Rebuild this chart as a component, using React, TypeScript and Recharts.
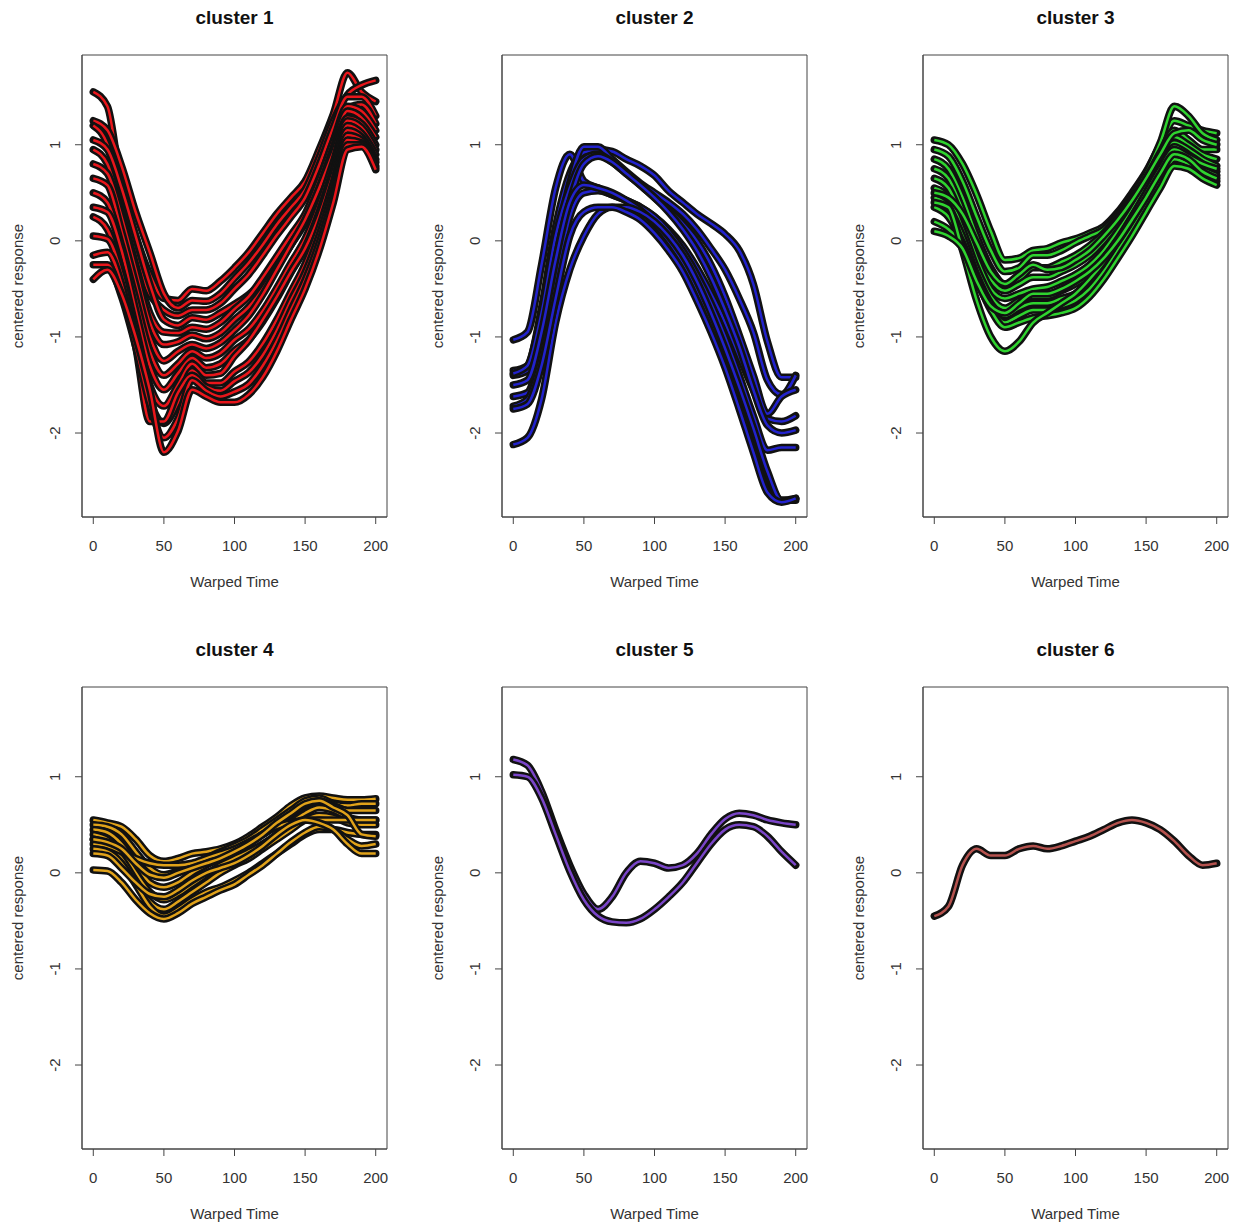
import React from 'react';
import { LineChart, Line, XAxis, YAxis, ReferenceArea } from 'recharts';

// warped time grid shared by every curve
const warpedTime = [0, 10, 20, 30, 40, 50, 60, 70, 80, 90, 100, 110, 120, 130, 140, 150, 160, 170, 180, 190, 200];
const xTicks = [0, 50, 100, 150, 200];
const yTicks = [-2, -1, 0, 1];

const cluster1 = [
  [1.55, 1.40, 0.55, 0.05, -0.35, -0.60, -0.62, -0.50, -0.52, -0.42, -0.28, -0.12, 0.08, 0.28, 0.45, 0.62, 0.95, 1.32, 1.75, 1.55, 1.45],
  [1.25, 1.15, 0.78, 0.30, -0.12, -0.55, -0.70, -0.62, -0.63, -0.55, -0.39, -0.23, -0.04, 0.17, 0.35, 0.53, 0.87, 1.25, 1.52, 1.62, 1.67],
  [1.20, 1.00, 0.40, -0.15, -0.55, -0.72, -0.78, -0.72, -0.72, -0.65, -0.50, -0.35, -0.15, 0.06, 0.25, 0.45, 0.79, 1.18, 1.50, 1.50, 1.30],
  [1.05, 0.95, 0.55, 0.05, -0.45, -0.82, -0.88, -0.80, -0.82, -0.75, -0.66, -0.56, -0.42, -0.25, -0.04, 0.22, 0.58, 1.00, 1.38, 1.42, 1.22],
  [0.95, 0.80, 0.30, -0.25, -0.75, -0.95, -0.96, -0.90, -0.92, -0.85, -0.71, -0.58, -0.38, -0.16, 0.06, 0.28, 0.63, 1.04, 1.40, 1.35, 1.15],
  [0.80, 0.70, 0.25, -0.30, -0.85, -1.08, -1.05, -0.98, -1.02, -0.96, -0.82, -0.69, -0.50, -0.27, -0.04, 0.19, 0.55, 0.97, 1.35, 1.28, 1.08],
  [0.65, 0.58, 0.10, -0.45, -1.00, -1.25, -1.15, -1.08, -1.12, -1.06, -0.93, -0.78, -0.56, -0.30, -0.04, 0.22, 0.55, 0.92, 1.28, 1.22, 1.00],
  [0.50, 0.40, -0.05, -0.60, -1.15, -1.40, -1.28, -1.15, -1.22, -1.17, -1.03, -0.92, -0.73, -0.49, -0.23, 0.02, 0.38, 0.82, 1.25, 1.18, 0.95],
  [0.35, 0.30, -0.10, -0.72, -1.30, -1.55, -1.38, -1.22, -1.32, -1.28, -1.14, -1.03, -0.84, -0.60, -0.33, -0.07, 0.30, 0.75, 1.20, 1.12, 0.90],
  [0.25, 0.12, -0.30, -0.90, -1.50, -1.72, -1.50, -1.28, -1.40, -1.38, -1.20, -1.04, -0.82, -0.58, -0.32, -0.08, 0.26, 0.70, 1.15, 1.08, 0.85],
  [0.05, 0.02, -0.35, -1.00, -1.65, -1.90, -1.68, -1.35, -1.48, -1.48, -1.36, -1.26, -1.07, -0.82, -0.53, -0.24, 0.14, 0.61, 1.10, 1.05, 0.82],
  [-0.15, -0.12, -0.45, -1.10, -1.88, -1.88, -1.58, -1.40, -1.52, -1.56, -1.46, -1.37, -1.19, -0.93, -0.62, -0.33, 0.06, 0.54, 1.05, 1.02, 0.78],
  [-0.25, -0.25, -0.58, -1.10, -1.70, -2.05, -1.85, -1.45, -1.56, -1.62, -1.57, -1.49, -1.30, -1.04, -0.72, -0.41, -0.02, 0.47, 1.00, 1.00, 0.76],
  [-0.40, -0.30, -0.55, -1.00, -1.55, -2.20, -1.98, -1.55, -1.62, -1.68, -1.68, -1.60, -1.42, -1.15, -0.82, -0.50, -0.10, 0.40, 0.95, 0.98, 0.74],
];

const cluster2 = [
  [-1.03, -0.95, -0.25, 0.55, 0.90, 0.62, 0.55, 0.48, 0.42, 0.35, 0.25, 0.12, -0.05, -0.28, -0.55, -0.85, -1.20, -1.55, -1.85, -1.88, -1.82],
  [-1.35, -1.30, -0.70, 0.15, 0.70, 0.92, 0.95, 0.93, 0.85, 0.78, 0.68, 0.52, 0.40, 0.28, 0.18, 0.07, -0.10, -0.45, -1.05, -1.42, -1.42],
  [-1.40, -1.35, -0.90, -0.10, 0.60, 0.98, 0.98, 0.85, 0.72, 0.60, 0.50, 0.40, 0.28, 0.12, -0.08, -0.30, -0.60, -0.95, -1.45, -1.60, -1.40],
  [-1.38, -1.30, -0.75, 0.05, 0.55, 0.85, 0.90, 0.82, 0.70, 0.58, 0.45, 0.32, 0.18, 0.00, -0.25, -0.58, -0.98, -1.40, -1.80, -1.62, -1.55],
  [-1.62, -1.58, -1.10, -0.30, 0.40, 0.80, 0.88, 0.82, 0.70, 0.58, 0.45, 0.30, 0.12, -0.10, -0.38, -0.72, -1.10, -1.55, -1.92, -2.00, -1.97],
  [-1.72, -1.65, -1.20, -0.45, 0.25, 0.50, 0.52, 0.48, 0.42, 0.35, 0.25, 0.10, -0.10, -0.35, -0.65, -1.00, -1.40, -1.82, -2.18, -2.15, -2.15],
  [-1.50, -1.45, -0.95, -0.20, 0.40, 0.58, 0.55, 0.50, 0.42, 0.32, 0.18, 0.00, -0.22, -0.50, -0.82, -1.18, -1.58, -2.00, -2.45, -2.70, -2.68],
  [-2.12, -2.05, -1.65, -0.85, -0.30, 0.05, 0.28, 0.35, 0.35, 0.30, 0.20, 0.05, -0.15, -0.42, -0.75, -1.12, -1.52, -1.95, -2.40, -2.70, -2.70],
  [-1.75, -1.70, -1.30, -0.60, 0.05, 0.30, 0.35, 0.35, 0.30, 0.22, 0.08, -0.10, -0.32, -0.62, -0.95, -1.32, -1.75, -2.20, -2.62, -2.72, -2.68],
];

const cluster3 = [
  [1.05, 1.00, 0.80, 0.48, 0.10, -0.20, -0.18, -0.10, -0.08, -0.02, 0.02, 0.08, 0.15, 0.30, 0.50, 0.72, 1.00, 1.25, 1.20, 1.15, 1.12],
  [0.95, 0.88, 0.62, 0.25, -0.10, -0.32, -0.28, -0.15, -0.15, -0.10, -0.02, 0.05, 0.12, 0.28, 0.48, 0.70, 1.02, 1.40, 1.30, 1.12, 1.05],
  [0.85, 0.75, 0.45, 0.05, -0.28, -0.45, -0.40, -0.28, -0.28, -0.22, -0.15, -0.05, 0.08, 0.25, 0.45, 0.65, 0.92, 1.15, 1.05, 0.95, 0.95],
  [0.75, 0.65, 0.32, -0.08, -0.40, -0.52, -0.45, -0.38, -0.38, -0.32, -0.25, -0.15, 0.00, 0.18, 0.40, 0.62, 0.88, 1.08, 1.00, 0.90, 0.85],
  [0.65, 0.55, 0.22, -0.18, -0.50, -0.60, -0.55, -0.50, -0.48, -0.42, -0.35, -0.25, -0.10, 0.10, 0.32, 0.58, 0.82, 1.02, 0.95, 0.85, 0.78],
  [0.55, 0.45, 0.12, -0.28, -0.58, -0.70, -0.62, -0.58, -0.58, -0.52, -0.45, -0.35, -0.18, 0.02, 0.25, 0.50, 0.76, 0.98, 0.90, 0.80, 0.72],
  [0.45, 0.35, 0.05, -0.35, -0.65, -0.78, -0.70, -0.65, -0.65, -0.60, -0.55, -0.42, -0.25, -0.05, 0.18, 0.42, 0.70, 0.92, 0.85, 0.75, 0.68],
  [0.35, 0.25, -0.02, -0.40, -0.70, -0.85, -0.78, -0.72, -0.72, -0.68, -0.62, -0.50, -0.32, -0.10, 0.12, 0.36, 0.62, 0.85, 0.80, 0.70, 0.62],
  [0.20, 0.12, -0.05, -0.40, -0.72, -0.90, -0.85, -0.80, -0.78, -0.75, -0.70, -0.58, -0.40, -0.18, 0.05, 0.30, 0.55, 0.78, 0.75, 0.65, 0.58],
  [0.40, 0.35, -0.10, -0.62, -1.00, -1.15, -1.05, -0.85, -0.75, -0.65, -0.55, -0.40, -0.22, 0.00, 0.25, 0.50, 0.75, 0.95, 0.88, 0.80, 0.75],
  [0.50, 0.45, 0.28, -0.02, -0.32, -0.45, -0.35, -0.25, -0.30, -0.28, -0.20, -0.10, 0.05, 0.22, 0.42, 0.65, 0.90, 1.12, 1.15, 1.05, 1.00],
  [0.10, 0.05, -0.08, -0.42, -0.68, -0.75, -0.65, -0.55, -0.55, -0.50, -0.42, -0.32, -0.18, 0.00, 0.22, 0.45, 0.70, 0.90, 0.85, 0.72, 0.65],
];

const cluster4 = [
  [0.55, 0.52, 0.48, 0.35, 0.18, 0.12, 0.15, 0.20, 0.22, 0.25, 0.30, 0.38, 0.48, 0.58, 0.70, 0.78, 0.80, 0.78, 0.76, 0.76, 0.77],
  [0.50, 0.48, 0.40, 0.22, 0.05, -0.02, 0.02, 0.08, 0.15, 0.22, 0.28, 0.35, 0.45, 0.55, 0.65, 0.75, 0.78, 0.72, 0.70, 0.72, 0.72],
  [0.45, 0.42, 0.30, 0.10, -0.10, -0.15, -0.10, 0.00, 0.08, 0.15, 0.22, 0.30, 0.40, 0.50, 0.60, 0.70, 0.75, 0.70, 0.65, 0.65, 0.65],
  [0.40, 0.35, 0.22, 0.00, -0.20, -0.28, -0.22, -0.12, -0.02, 0.08, 0.15, 0.22, 0.30, 0.40, 0.52, 0.62, 0.68, 0.65, 0.58, 0.55, 0.55],
  [0.35, 0.30, 0.15, -0.08, -0.30, -0.38, -0.30, -0.20, -0.10, 0.00, 0.08, 0.15, 0.25, 0.35, 0.45, 0.55, 0.60, 0.58, 0.52, 0.50, 0.50],
  [0.30, 0.28, 0.22, 0.15, 0.10, 0.08, 0.08, 0.10, 0.15, 0.20, 0.25, 0.32, 0.40, 0.48, 0.52, 0.55, 0.55, 0.55, 0.55, 0.55, 0.55],
  [0.25, 0.22, 0.10, -0.12, -0.35, -0.45, -0.38, -0.28, -0.20, -0.15, -0.08, 0.00, 0.10, 0.20, 0.30, 0.40, 0.45, 0.45, 0.42, 0.40, 0.40],
  [0.03, 0.02, -0.10, -0.28, -0.42, -0.48, -0.42, -0.32, -0.25, -0.18, -0.12, -0.02, 0.08, 0.20, 0.32, 0.42, 0.48, 0.45, 0.35, 0.28, 0.30],
  [0.20, 0.18, 0.05, -0.10, -0.22, -0.25, -0.18, -0.08, 0.00, 0.05, 0.10, 0.18, 0.28, 0.40, 0.50, 0.55, 0.52, 0.45, 0.30, 0.20, 0.20],
  [0.35, 0.32, 0.25, 0.10, -0.02, -0.05, 0.00, 0.05, 0.10, 0.15, 0.22, 0.30, 0.40, 0.52, 0.62, 0.72, 0.75, 0.68, 0.60, 0.40, 0.38],
];

const cluster5 = [
  [1.18, 1.12, 0.85, 0.45, 0.08, -0.22, -0.38, -0.25, 0.00, 0.12, 0.10, 0.05, 0.08, 0.20, 0.40, 0.56, 0.62, 0.60, 0.55, 0.52, 0.50],
  [1.02, 1.00, 0.78, 0.40, 0.02, -0.28, -0.45, -0.51, -0.52, -0.48, -0.38, -0.25, -0.10, 0.10, 0.30, 0.45, 0.50, 0.48, 0.38, 0.22, 0.08],
];

const cluster6 = [
  [-0.45, -0.35, 0.08, 0.25, 0.18, 0.18, 0.25, 0.28, 0.25, 0.28, 0.33, 0.38, 0.45, 0.52, 0.55, 0.52, 0.45, 0.33, 0.18, 0.08, 0.10],
];

const clusterTitles = ['cluster 1', 'cluster 2', 'cluster 3', 'cluster 4', 'cluster 5', 'cluster 6'];
const clusterColors = ['#e8161b', '#2222cc', '#2fd32f', '#e0a21a', '#7a45c8', '#b5524e'];
const clusterCurves = [cluster1, cluster2, cluster3, cluster4, cluster5, cluster6];

const X_DOMAIN = [-8, 208];
const Y_DOMAIN = [-2.874, 1.934];
const FRAME = '#444';
const TEXT = '#333';

const toRows = (curves: number[][]) =>
  warpedTime.map((t, i) => {
    const row: Record<string, number> = { t };
    curves.forEach((c, k) => {
      row[`c${k}`] = c[i];
    });
    return row;
  });

const RotatedTick = ({ x, y, payload }: any) => (
  <text x={x} y={y} transform={`rotate(-90 ${x} ${y})`} textAnchor="middle" fontSize={15} fill={TEXT}>
    {payload.value}
  </text>
);

const Panel = ({ index }: { index: number }) => {
  const curves = clusterCurves[index];
  const color = clusterColors[index];
  const rows = toRows(curves);
  const left = (index % 3) * 420 + (index % 3 === 2 ? 1 : 0);
  const top = Math.floor(index / 3) * 632;

  // each curve: wide black halo first, thin coloured line on top
  const lines = curves.flatMap((_, k) => [
    <Line key={`b${k}`} dataKey={`c${k}`} type="monotone" stroke="#111" strokeWidth={7.5}
      strokeLinejoin="round" strokeLinecap="round" dot={false} activeDot={false} isAnimationActive={false} />,
    <Line key={`l${k}`} dataKey={`c${k}`} type="monotone" stroke={color} strokeWidth={2.5}
      strokeLinejoin="round" dot={false} activeDot={false} isAnimationActive={false} />,
  ]);

  return (
    <div style={{ position: 'absolute', left, top, width: 400, height: 590 }}>
      <div style={{ position: 'absolute', left: 134.5, top: 6, width: 200, height: 24, lineHeight: '24px',
        textAlign: 'center', fontSize: 19, fontWeight: 'bold', color: '#111' }}>
        {clusterTitles[index]}
      </div>
      <LineChart width={400} height={590} data={rows} margin={{ top: 55, right: 13, bottom: 0, left: 0 }}>
        <XAxis dataKey="t" type="number" domain={X_DOMAIN} ticks={xTicks} interval={0} allowDataOverflow
          height={73} tickSize={7} tickMargin={16} stroke={FRAME} tick={{ fill: TEXT, fontSize: 15 }} />
        <YAxis type="number" domain={Y_DOMAIN} ticks={yTicks} interval={0} allowDataOverflow
          width={82} tickSize={7} tickMargin={15} stroke={FRAME} tick={(p: any) => <RotatedTick {...p} />} />
        <ReferenceArea x1={X_DOMAIN[0]} x2={X_DOMAIN[1]} y1={Y_DOMAIN[0]} y2={Y_DOMAIN[1]}
          fill="none" fillOpacity={0} stroke={FRAME} strokeWidth={1} ifOverflow="visible" />
        {lines}
      </LineChart>
      <div style={{ position: 'absolute', left: 134.5, top: 572, width: 200, height: 20, lineHeight: '20px',
        textAlign: 'center', fontSize: 15, color: TEXT }}>
        Warped Time
      </div>
      <div style={{ position: 'absolute', left: -82, top: 276, width: 200, height: 20, lineHeight: '20px',
        textAlign: 'center', fontSize: 15, color: TEXT, transform: 'rotate(-90deg)' }}>
        centered response
      </div>
    </div>
  );
};

export default function App() {
  return (
    <div style={{ position: 'absolute', left: 0, top: 0, width: 1243, height: 1228, background: '#fff',
      fontFamily: '"Liberation Sans", Arial, Helvetica, sans-serif', overflow: 'hidden' }}>
      {clusterTitles.map((_, i) => (
        <Panel key={i} index={i} />
      ))}
    </div>
  );
}
